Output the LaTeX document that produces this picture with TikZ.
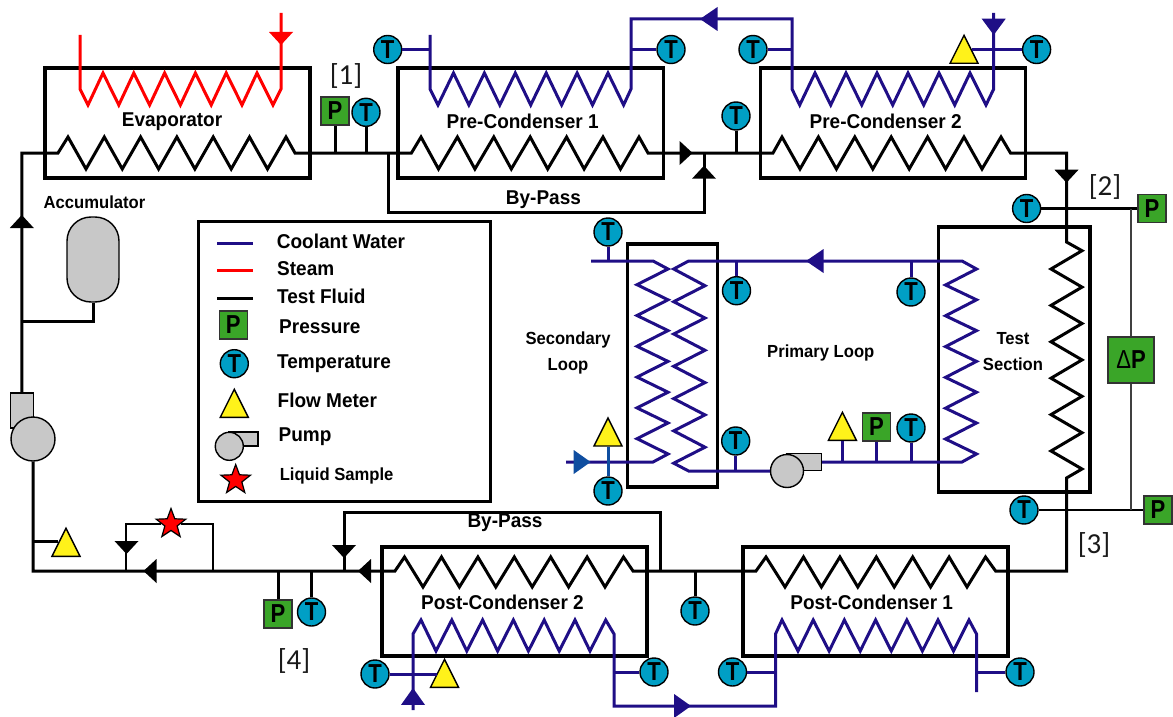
\documentclass[tikz,border=0pt]{standalone}
\usepackage{fontspec}
\setmainfont{Liberation Sans}
\newfontfamily\labelfont[FakeStretch=0.95]{Liberation Sans}
\newfontfamily\gaugefont[FakeStretch=0.85]{Liberation Sans}
\newfontfamily\tagfont{Carlito}
\usetikzlibrary{shapes.geometric}
\definecolor{coolant}{HTML}{1F0E86}
\definecolor{coolantB}{HTML}{0F4EA0}
\definecolor{gaugeP}{HTML}{3AA528}
\definecolor{gaugeT}{HTML}{009FC5}
\definecolor{gaugeF}{HTML}{FFF21A}
\definecolor{pumpgray}{HTML}{C8C8C8}
\tikzset{
    pipe/.style={line width=3pt,black},
    bluepipe/.style={line width=3pt,coolant},
    redpipe/.style={line width=3pt,red},
    sense/.style={line width=1.6pt,black!75},
    unitbox/.style={draw=black,line width=3.2pt,inner sep=0pt},
    lab/.style={font=\labelfont\bfseries\fontsize{20}{26}\selectfont,inner sep=0pt,align=center},
    smalllab/.style={lab,font=\labelfont\bfseries\fontsize{17.5}{26}\selectfont},
    legendlab/.style={lab,anchor=west},
    tagtext/.style={font=\tagfont\fontsize{29}{29}\selectfont,inner sep=0pt,black!90},
    tempnode/.style={circle,draw=black,line width=1.4pt,fill=gaugeT,minimum size=28pt,inner sep=0pt,
        font=\gaugefont\bfseries\fontsize{26}{26}\selectfont,text=black},
    presnode/.style={rectangle,draw=black!80,line width=1.4pt,fill=gaugeP,minimum size=28pt,inner sep=0pt,
        font=\gaugefont\bfseries\fontsize{26}{26}\selectfont,text=black},
    flownode/.style={isosceles triangle,isosceles triangle stretches,shape border rotate=90,
        draw=black,line width=1.4pt,fill=gaugeF,minimum width=28pt,minimum height=28pt,inner sep=0pt},
    graybody/.style={draw=black,line width=1.4pt,fill=pumpgray,inner sep=0pt},
    samplenode/.style={star,star points=5,star point ratio=2.4,draw=black,line width=1.2pt,fill=red,
        minimum size=31pt,inner sep=0pt},
}
\newcommand{\flowtip}[4][1]{\fill[#2,shift={(#3)},rotate=#4,xscale=#1] (-13,-12) -- (0,0) -- (-13,12) -- cycle;}
\begin{document}
\begin{tikzpicture}[x=1pt,y=-1pt]
    \useasboundingbox (0,0) rectangle (1173,717);

    % units
    \node[unitbox,minimum width=265pt,minimum height=110pt] (evap) at (177.5,123) {};
    \node[unitbox,minimum width=265.5pt,minimum height=110pt] (precA) at (530.8,123) {};
    \node[unitbox,minimum width=265pt,minimum height=110pt] (precB) at (893,123) {};
    \node[unitbox,minimum width=265pt,minimum height=109pt] (postB) at (514.5,601.5) {};
    \node[unitbox,minimum width=265pt,minimum height=109pt] (postA) at (875.5,601.5) {};
    \node[unitbox,minimum width=151.5pt,minimum height=265pt] (testsec) at (1014.2,359.5) {};
    \node[unitbox,minimum width=90pt,minimum height=243pt] (secbox) at (672.5,365.5) {};
    \node[unitbox,minimum width=292.5pt,minimum height=280pt] (legend) at (344.4,361.7) {};

    \node[lab] (evaplab) at (172,121.5) {Evaporator};
    \node[lab] (precAlab) at (522.6,121.5) {Pre-Condenser 1};
    \node[lab] (precBlab) at (885.7,121.5) {Pre-Condenser 2};
    \node[lab] (postBlab) at (502.5,602.7) {Post-Condenser 2};
    \node[lab] (postAlab) at (871.7,602.7) {Post-Condenser 1};
    \node[lab] (bypAlab) at (543.4,200) {By-Pass};
    \node[lab] (bypBlab) at (505,523) {By-Pass};
    \node[smalllab] (acculab) at (94.5,202) {Accumulator};
    \node[smalllab] (seclab) at (568,353) {Secondary\\Loop};
    \node[smalllab] (primlab) at (820.8,352.7) {Primary Loop};
    \node[smalllab] (testlab) at (1013,352) {Test\\Section};

    \node[tagtext] (tagA) at (346,76) {[1]};
    \node[tagtext] (tagB) at (1105,186.7) {[2]};
    \node[tagtext] (tagC) at (1094,545) {[3]};
    \node[tagtext] (tagD) at (294,661) {[4]};

    % junctions
    \coordinate (evapin) at (58,153);
    \coordinate (evapout) at (295,153);
    \coordinate (precAin) at (411.4,153);
    \coordinate (precAout) at (648,153);
    \coordinate (mix) at (704,153);
    \coordinate (precBin) at (773,153);
    \coordinate (precBout) at (1010.5,153);
    \coordinate (testin) at (1066.5,242);
    \coordinate (testout) at (1066.5,478);
    \coordinate (postAout) at (995.6,571);
    \coordinate (postAin) at (756,571);
    \coordinate (postBout) at (633,571);
    \coordinate (postBin) at (395,571);
    \coordinate (bypAs) at (388.4,153);
    \coordinate (bypAc) at (704,212);
    \coordinate (bypBs) at (660,571);
    \coordinate (bypBc) at (344,512);
    \coordinate (bypBe) at (344,571);
    \coordinate (accuj) at (21.8,321);
    \coordinate (sampB) at (126,571);
    \coordinate (sampC) at (213,571);
    \coordinate (flowj) at (32.5,542);
    \coordinate (coolAin) at (430,35);
    \coordinate (coolAout) at (631,89);
    \coordinate (coolBin) at (792,89);
    \coordinate (coolBtop) at (993.7,13);
    \coordinate (primtop) at (962,261);
    \coordinate (primbot) at (962,462);
    \coordinate (sectop) at (688.6,261);
    \coordinate (secbot) at (688.6,471);
    \coordinate (feedtop) at (591,261);
    \coordinate (feedbot) at (566,462);
    \coordinate (postcA) at (413,710);
    \coordinate (postcB) at (614,634);
    \coordinate (postcC) at (775.5,634);
    \coordinate (postcD) at (976.5,634);

    % gray bodies
    \node[graybody,minimum width=23pt,minimum height=35pt] (pumpAvol) at (21.8,410.5) {};
    \node[graybody,circle,minimum size=44pt] (pumpA) at (33,439) {};
    \node[graybody,minimum width=35pt,minimum height=17pt] (pumpBvol) at (804,462) {};
    \node[graybody,circle,minimum size=33pt] (pumpB) at (787,471) {};
    \node[graybody,rounded corners=24pt,minimum width=52pt,minimum height=85pt] (accum) at (93,259.5) {};

    % gauges
    \node[presnode] (presA) at (335,111) {P};
    \node[tempnode] (tempA) at (366,112.3) {T};
    \node[tempnode] (tempB) at (736,116) {T};
    \node[tempnode] (tempC) at (387.7,49.5) {T};
    \node[tempnode] (tempD) at (671,49.5) {T};
    \node[tempnode] (tempE) at (753,49.5) {T};
    \node[tempnode] (tempF) at (1036.6,49.5) {T};
    \node[flownode,anchor=lower side] (flowA) at (964,64) {};
    \node[tempnode] (tempG) at (1026.6,208.5) {T};
    \node[presnode] (presB) at (1152,208.5) {P};
    \node[tempnode] (tempH) at (1024,510) {T};
    \node[presnode] (presC) at (1158,510) {P};
    \node[presnode,minimum width=46pt,minimum height=46pt] (presD) at (1131,360) {{\mdseries Δ}P};
    \node[tempnode] (tempI) at (608,232) {T};
    \node[tempnode] (tempJ) at (736.5,290.7) {T};
    \node[tempnode] (tempK) at (911,292) {T};
    \node[tempnode] (tempL) at (735.7,441) {T};
    \node[flownode,anchor=lower side] (flowB) at (842.4,441) {};
    \node[presnode] (presE) at (876.6,427) {P};
    \node[tempnode] (tempM) at (911,428) {T};
    \node[flownode,anchor=lower side] (flowC) at (608,446.7) {};
    \node[tempnode] (tempN) at (608,491) {T};
    \node[presnode] (presF) at (278,614) {P};
    \node[tempnode] (tempO) at (311.5,612) {T};
    \node[tempnode] (tempP) at (695,611) {T};
    \node[tempnode] (tempQ) at (375,674) {T};
    \node[flownode,anchor=lower side] (flowD) at (444.5,688) {};
    \node[tempnode] (tempR) at (654,672) {T};
    \node[tempnode] (tempS) at (732.5,672) {T};
    \node[tempnode] (tempU) at (1020,672) {T};
    \node[flownode,anchor=lower side] (flowE) at (66,557) {};
    \node[samplenode] (sample) at (171,524) {};

    % test fluid loop
    \draw[pipe] (pumpAvol.north) |- (evapin)
        \foreach \i in {0,...,5} {-- (68+36.3*\i,137) -- (86+36.3*\i,169)} -- (286,137)
        -- (evapout) -- (precAin)
        \foreach \i in {0,...,5} {-- (421+36.4*\i,137) -- (438.5+36.4*\i,169)} -- (639,137)
        -- (precAout) -- (precBin)
        \foreach \i in {0,...,5} {-- (782+36.4*\i,137) -- (800+36.4*\i,169)} -- (1001,137)
        -- (precBout) -| (testin)
        \foreach \i in {0,...,5} {-- (1082,250.7+36.4*\i) -- (1051,269+36.4*\i)} -- (1082,469)
        -- (testout) |- (postAout)
        \foreach \i in {0,...,5} {-- (985.5-36.4*\i,557) -- (967-36.4*\i,587)} -- (766,557)
        -- (postAin) -- (postBout)
        \foreach \i in {0,...,5} {-- (623.5-36.4*\i,557) -- (605-36.4*\i,587)} -- (404.5,557)
        -- (postBin) -| (pumpA.south);
    \draw[pipe] (bypAs) |- (bypAc) -- (mix);
    \draw[pipe] (bypBs) |- (bypBc) -- (bypBe);
    \draw[pipe] (accum.south) |- (accuj);
    \draw[pipe,line width=2.6pt] (flowE.left side) -- (flowE.left side -| flowj);
    \draw[line width=2pt] (sampB) |- (sample);
    \draw[line width=2pt] (sampC) |- (sample);

    % steam
    \draw[redpipe] (80,35) -- (80,89)
        \foreach \i in {0,...,5} {-- (88+30.8*\i,105) -- (103+30.8*\i,73)} -- (273,105)
        -- (281,89) -- (281,13);

    % coolant
    \draw[bluepipe] (coolAin) -- (430,89)
        \foreach \i in {0,...,5} {-- (438+30.9*\i,105) -- (453.5+30.9*\i,73)} -- (623.6,105)
        -- (coolAout) -- (631,19) -- (792,19) -- (coolBin)
        \foreach \i in {0,...,5} {-- (799.7+31*\i,105) -- (815+31*\i,73)} -- (986,105)
        -- (993.7,89) -- (coolBtop);
    \draw[bluepipe] (pumpBvol.east) -- (primbot) -- (976.5,454)
        \foreach \i in {0,...,5} {-- (945.5,439-30.8*\i) -- (976.5,423-30.8*\i)}
        -- (primtop) -- (sectop) -- (673.7,269)
        \foreach \i in {0,...,5} {-- (705,285.7+32.3*\i) -- (673.7,301.7+32.3*\i)}
        -- (secbot) -- (pumpB);
    \draw[bluepipe] (feedtop) -- (653,261)
        \foreach \i in {0,...,5} {-- (668,269+30.8*\i) -- (637,284.7+30.8*\i)} -- (668,454)
        -- (653,462) -- (feedbot);
    \draw[bluepipe] (postcA) -- (413,634)
        \foreach \i in {0,...,5} {-- (421+30.8*\i,620) -- (436+30.8*\i,651)} -- (605.7,620)
        -- (postcB) -- (614,706) -- (775.5,706) -- (postcC)
        \foreach \i in {0,...,5} {-- (782+31.2*\i,620) -- (798+31.1*\i,651)} -- (969,620)
        -- (postcD) -- (976.5,692);

    % gauge stems
    \foreach \g in {presA,tempA,tempB}
        \draw[pipe] (\g) -- (\g |- evapout);
    \foreach \g in {presF,tempO,tempP}
        \draw[pipe] (\g) -- (\g |- postAin);
    \draw[pipe,line width=2.6pt] (tempG) -- (presB);
    \draw[pipe,line width=2.6pt] (tempH) -- (presC);
    \draw[sense] (presD) -- (presD |- presB);
    \draw[sense] (presD) -- (presD |- presC);
    \draw[bluepipe] (tempC) -- (tempC -| coolAin);
    \draw[bluepipe] (tempD) -- (tempD -| coolAout);
    \draw[bluepipe] (tempE) -- (tempE -| coolBin);
    \draw[bluepipe] (tempF) -- (tempF -| flowA.right side);
    \foreach \g in {tempI,tempJ,tempK}
        \draw[bluepipe] (\g) -- (\g |- primtop);
    \foreach \g in {flowB,presE,tempM}
        \draw[bluepipe] (\g) -- (\g |- primbot);
    \draw[bluepipe] (tempL) -- (tempL |- secbot);
    \draw[bluepipe] (tempQ) -- (tempQ -| flowD.left side);
    \draw[bluepipe] (tempR) -- (tempR -| postcB);
    \draw[bluepipe] (tempS) -- (tempS -| postcC);
    \draw[bluepipe] (tempU) -- (tempU -| postcD);
    \draw[line width=3pt,coolantB] (flowC) -- (tempN);

    % arrows
    \flowtip{red}{281,45}{-90}
    \flowtip{black}{21.8,215}{90}
    \flowtip{black}{692.6,153}{0}
    \flowtip{black}{704,165.7}{90}
    \flowtip{black}{1066.5,182.7}{-90}
    \flowtip{black}{344,558}{-90}
    \flowtip{black}{358,571}{180}
    \flowtip{black}{143.5,571}{180}
    \flowtip{black}{126.5,554}{-90}
    \flowtip[1.35]{coolant}{700,19}{180}
    \flowtip[1.25]{coolant}{993.7,35}{-90}
    \flowtip[1.35]{coolant}{806,261}{180}
    \flowtip[1.3]{coolant}{691,706}{0}
    \flowtip[1.3]{coolant}{413,688}{90}
    \flowtip[1.3]{coolantB}{590.6,462}{0}

    % legend
    \foreach \col/\y in {coolant/243,red/270,black/298}
        \draw[line width=3pt,\col] (217,\y) -- (253,\y);
    \node[legendlab] (legA) at (276.7,241.7) {Coolant Water};
    \node[legendlab] (legB) at (277,269) {Steam};
    \node[legendlab] (legC) at (277,296) {Test Fluid};
    \node[legendlab] (legD) at (279,327) {Pressure};
    \node[legendlab] (legE) at (277,364) {Temperature};
    \node[legendlab] (legF) at (277.5,400.7) {Flow Meter};
    \node[legendlab] (legG) at (278.5,437) {Pump};
    \node[legendlab,smalllab] (legH) at (279.6,475.7) {Liquid Sample};
    \node[presnode] (keyP) at (233.3,325) {P};
    \node[tempnode] (keyT) at (234.3,363.7) {T};
    \node[flownode,anchor=lower side] (keyF) at (234.3,418) {};
    \node[graybody,minimum width=29pt,minimum height=14pt] (keyvol) at (243.5,439) {};
    \node[graybody,circle,minimum size=28pt] (keypump) at (229.3,446.3) {};
    \node[samplenode] (keystar) at (235.7,480) {};
\end{tikzpicture}
\end{document}
